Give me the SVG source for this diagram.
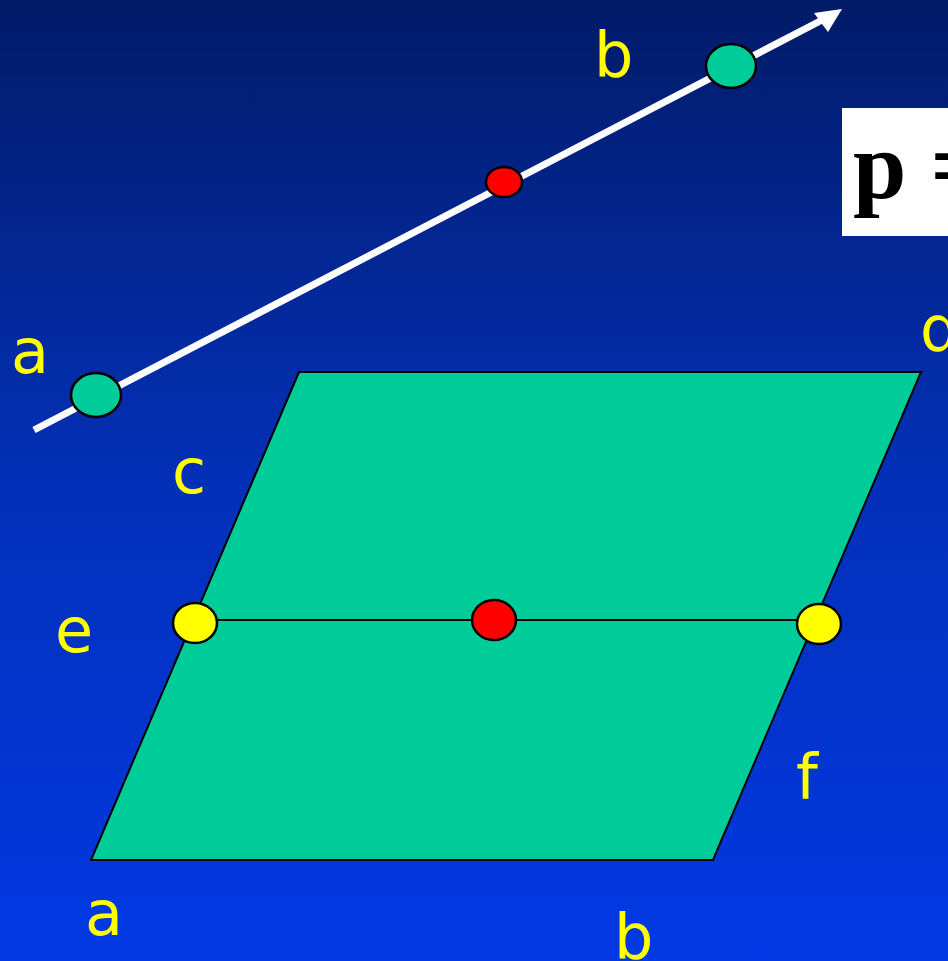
<svg xmlns="http://www.w3.org/2000/svg" width="948" height="961" viewBox="0 0 948 961">
<defs>
<linearGradient id="bg" x1="0" y1="0" x2="0" y2="1">
<stop offset="0" stop-color="#021b68"/>
<stop offset="0.5" stop-color="#0330b8"/>
<stop offset="1" stop-color="#0139e4"/>
</linearGradient>
<style>
.lbl{font-family:"DejaVu Sans","Verdana",sans-serif;font-size:62px;fill:#ffff00}
.pt{stroke:#000;stroke-width:2.5}
</style>
</defs>
<rect width="948" height="961" fill="url(#bg)"/>
<g id="plane">
<polygon points="299,372 921,372 713,860 91,860" fill="#00cc99" stroke="#000" stroke-width="2"/>
</g>
<g id="connectors">
<line x1="34" y1="430" x2="826" y2="18" stroke="#fff" stroke-width="7"/>
<polygon points="842,9 814,13 828,32" fill="#fff"/>
<line x1="195" y1="620" x2="819" y2="620" stroke="#000" stroke-width="2"/>
</g>
<g id="line-point-a"><ellipse class="pt" cx="96" cy="395" rx="25" ry="22" fill="#00cc99"/></g>
<g id="line-point-b"><ellipse class="pt" cx="731" cy="66" rx="25" ry="22" fill="#00cc99"/></g>
<g id="line-mid"><ellipse class="pt" cx="504" cy="182" rx="18" ry="15" fill="#ff0000"/></g>
<g id="plane-e"><ellipse class="pt" cx="195" cy="623" rx="22" ry="20" fill="#ffff00"/></g>
<g id="plane-mid"><ellipse class="pt" cx="494" cy="620" rx="22" ry="20" fill="#ff0000"/></g>
<g id="plane-f"><ellipse class="pt" cx="819" cy="624" rx="22" ry="20" fill="#ffff00"/></g>
<g id="formula">
<rect x="842" y="108" width="110" height="128" fill="#fff"/>
<text x="853" y="198" font-family="'Liberation Serif','Times New Roman',serif" font-weight="bold" font-size="96" fill="#000">p =</text>
</g>
<g id="labels">
<text class="lbl" x="594" y="76">b</text>
<text class="lbl" x="11" y="373">a</text>
<text class="lbl" x="920" y="350">d</text>
<text class="lbl" x="172" y="493">c</text>
<text class="lbl" x="55" y="652">e</text>
<text class="lbl" x="796" y="798">f</text>
<text class="lbl" x="85" y="935">a</text>
<text class="lbl" x="614" y="958">b</text>
</g>
</svg>
